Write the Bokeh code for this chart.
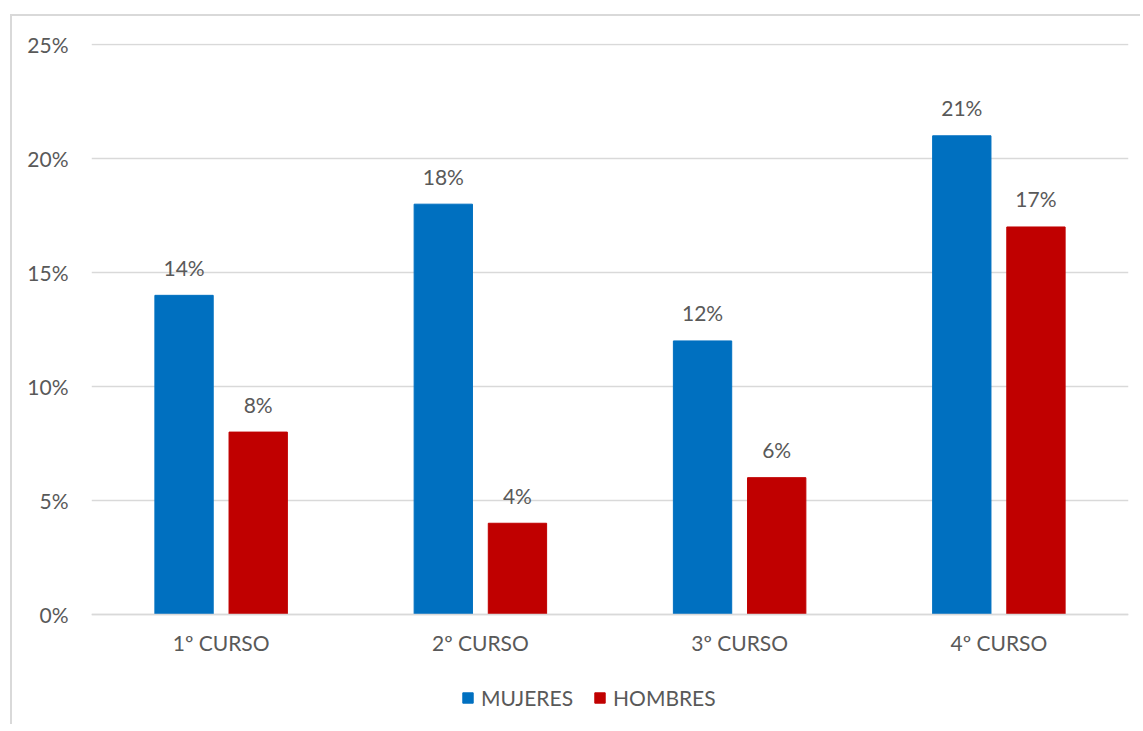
from bokeh.plotting import figure
from bokeh.models import ColumnDataSource, FactorRange, Range1d, FixedTicker, NumeralTickFormatter, Legend, LegendItem
from bokeh.transform import dodge
from bokeh.core.properties import value
from bokeh.embed import file_html
from bokeh.resources import INLINE

cursos = ["1º CURSO", "2º CURSO", "3º CURSO", "4º CURSO"]
mujeres = [0.14, 0.18, 0.12, 0.21]
hombres = [0.08, 0.04, 0.06, 0.17]
y_ticks = [0, 0.05, 0.10, 0.15, 0.20, 0.25]
series_names = ["MUJERES", "HOMBRES"]

BLUE = "#0070C0"
RED = "#C00000"
TXT = "#595959"
GRID = "#D9D9D9"
FONT = "Lato"
FS = "21px"

src = ColumnDataSource(dict(
    x=cursos,
    m=mujeres,
    h=hombres,
    ml=[f"{round(v*100)}%" for v in mujeres],
    hl=[f"{round(v*100)}%" for v in hombres],
))

p = figure(frame_width=1037, frame_height=681, x_range=FactorRange(*cursos), y_range=Range1d(-0.0483, 0.2505),
           output_backend="svg", toolbar_location=None,
           min_border_left=79, min_border_right=12, min_border_top=27, min_border_bottom=0,
           styles={"margin-left": "10px", "margin-top": "14px",
                   "border-left": "2px solid #D9D9D9", "border-top": "2px solid #D9D9D9"})
p.outline_line_color = None
p.background_fill_color = "white"
p.border_fill_color = "white"

off = 0.143
w = 0.225
r1 = p.vbar(x=dodge("x", -off, range=p.x_range), top="m", width=w, source=src, fill_color=BLUE, line_color=BLUE)
r2 = p.vbar(x=dodge("x", off, range=p.x_range), top="h", width=w, source=src, fill_color=RED, line_color=RED)

for col, lab, o in (("m", "ml", -off), ("h", "hl", off)):
    p.text(x=dodge("x", o, range=p.x_range), y=col, text=lab, source=src, text_align="center",
           text_baseline="alphabetic", y_offset=-28, text_font=value(FONT), text_font_size=FS,
           text_color=TXT)

p.xgrid.grid_line_color = None
p.ygrid.grid_line_color = GRID
p.ygrid.grid_line_width = 1.5
p.yaxis.ticker = FixedTicker(ticks=y_ticks)
p.yaxis.formatter = NumeralTickFormatter(format="0%")

for ax in (p.xaxis, p.yaxis):
    ax.major_tick_line_color = None
    ax.minor_tick_line_color = None
    ax.major_label_text_font = FONT
    ax.major_label_text_font_size = FS
    ax.major_label_text_color = TXT
p.yaxis.axis_line_color = None
p.xaxis.axis_line_color = GRID
p.xaxis.axis_line_width = 1.5
p.xaxis.fixed_location = 0
p.yaxis.major_label_standoff = 17
p.xaxis.major_label_standoff = 10

legend = Legend(items=[LegendItem(label=series_names[0], renderers=[r1]),
                       LegendItem(label=series_names[1], renderers=[r2])],
                orientation="horizontal", location=(370, 14))
legend.label_text_font = FONT
legend.label_text_font_size = FS
legend.label_text_color = TXT
legend.glyph_width = 13
legend.glyph_height = 13
legend.label_standoff = 7
legend.spacing = 20
legend.border_line_color = None
legend.background_fill_alpha = 0
legend.margin = 0
legend.padding = 1
p.add_layout(legend, "center")

open("out.html", "w").write(file_html(p, INLINE))
